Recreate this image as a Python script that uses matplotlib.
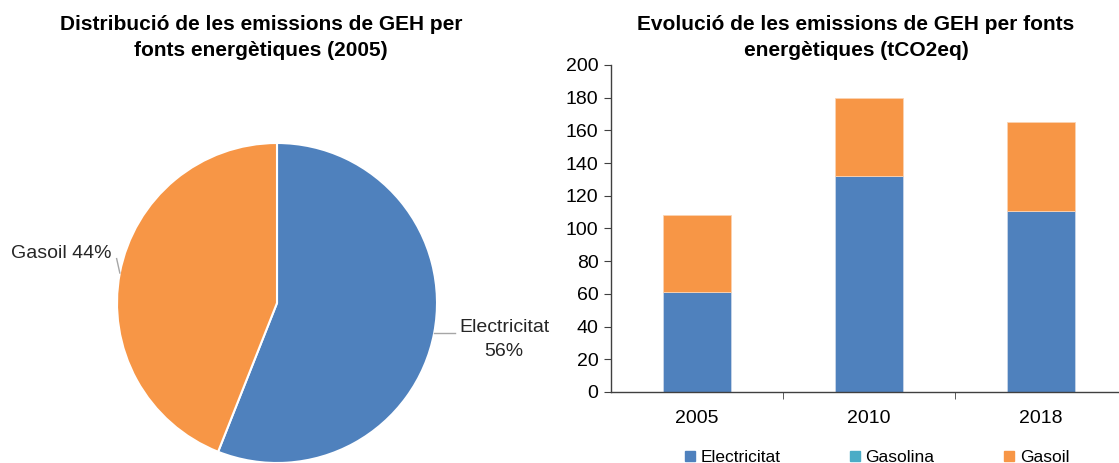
import matplotlib
matplotlib.use("Agg")
import matplotlib.pyplot as plt
from matplotlib.lines import Line2D
import numpy as np

plt.rcParams['font.family'] = ['Liberation Sans', 'DejaVu Sans']

# Data
pie_labels = ["Electricitat", "Gasoil"]
pie_values = [56, 44]
years = ["2005", "2010", "2018"]
electricitat = [61, 132, 111]
gasolina = [0, 0, 0]
gasoil = [47, 48, 54]
series_names = ["Electricitat", "Gasolina", "Gasoil"]

c_blue = "#4F81BD"
c_teal = "#4BACC6"
c_orange = "#F79646"

W, H = 1119, 463
fig = plt.figure(figsize=(W / 100, H / 100), dpi=100)

# ---------- Pie ----------
cx, cy, r = 277, 303, 160
axp = fig.add_axes([(cx - r) / W, (H - cy - r) / H, 2 * r / W, 2 * r / H])
wedges, _ = axp.pie(pie_values, colors=[c_blue, c_orange], startangle=90,
                    counterclock=False,
                    wedgeprops=dict(edgecolor="white", linewidth=1.5))
axp.set_xlim(-1, 1)
axp.set_ylim(-1, 1)
axp.set_aspect("equal")
axp.axis("off")

# leader lines and labels
th_e = np.deg2rad(90 - pie_values[0] / 100 * 360 / 2)
ex, ey = np.cos(th_e), np.sin(th_e)
axp.plot([ex, 1.11], [ey, ey], color="#A6A6A6", lw=1, clip_on=False)
axp.text(1.42, ey - 0.04, f"{pie_labels[0]}\n{pie_values[0]}%", ha="center",
         va="center", fontsize=14, color="#262626", clip_on=False,
         linespacing=1.5)
th_g = np.deg2rad(90 - (pie_values[0] + pie_values[1] / 2) / 100 * 360)
gx, gy = np.cos(th_g), np.sin(th_g)
axp.plot([gx, gx - 0.02], [gy, gy + 0.09], color="#A6A6A6", lw=1, clip_on=False)
axp.text(-1.35, 0.31, f"{pie_labels[1]} {pie_values[1]}%", ha="center",
         va="center", fontsize=14, color="#262626", clip_on=False)

fig.text(261 / W, 1 - 24 / H, "Distribució de les emissions de GEH per",
         ha="center", va="center", fontsize=15, fontweight="bold")
fig.text(261 / W, 1 - 50 / H, "fonts energètiques (2005)",
         ha="center", va="center", fontsize=15, fontweight="bold")

# ---------- Bars ----------
left_px, right_px, bot_px, top_px = 611, 1127, 392, 65
axb = fig.add_axes([left_px / W, (H - bot_px) / H,
                    (right_px - left_px) / W, (bot_px - top_px) / H])
x = np.arange(len(years))
bw = 0.4
b1 = axb.bar(x, electricitat, bw, color=c_blue, edgecolor="#C9D6E8", linewidth=0.6)
bottom2 = np.array(electricitat)
b2 = axb.bar(x, gasolina, bw, bottom=bottom2, color=c_teal, linewidth=0)
bottom3 = bottom2 + np.array(gasolina)
b3 = axb.bar(x, gasoil, bw, bottom=bottom3, color=c_orange, edgecolor="#FBD3B2", linewidth=0.6)

axb.set_xlim(-0.5, 2.5)
axb.set_ylim(0, 200)
axb.set_yticks(np.arange(0, 201, 20))
axb.set_xticks(x)
axb.set_xticklabels(years)
axb.set_xticks([0.5, 1.5], minor=True)
axb.tick_params(axis="x", which="major", length=0, pad=13, labelsize=14)
axb.tick_params(axis="x", which="minor", length=5, direction="out", color="#404040")
axb.tick_params(axis="y", length=5, direction="out", labelsize=14, pad=4, color="#404040")
for s in ["top", "right"]:
    axb.spines[s].set_visible(False)
for s in ["left", "bottom"]:
    axb.spines[s].set_color("#404040")
    axb.spines[s].set_linewidth(1)

fig.text(856 / W, 1 - 24 / H, "Evolució de les emissions de GEH per fonts",
         ha="center", va="center", fontsize=15, fontweight="bold")
fig.text(856 / W, 1 - 50 / H, "energètiques (tCO2eq)",
         ha="center", va="center", fontsize=15, fontweight="bold")

# legend
handles = [Line2D([], [], marker="s", linestyle="none", markersize=7,
                  markerfacecolor=c, markeredgecolor=c)
           for c in [c_blue, c_teal, c_orange]]
fig.legend(handles, series_names, loc="center", bbox_to_anchor=(877 / W, 1 - 457 / H),
           ncol=3, frameon=False, fontsize=12.5, handlelength=0.6,
           handletextpad=0.3, columnspacing=4.0, borderaxespad=0)

fig.savefig("out.png", dpi=100)
